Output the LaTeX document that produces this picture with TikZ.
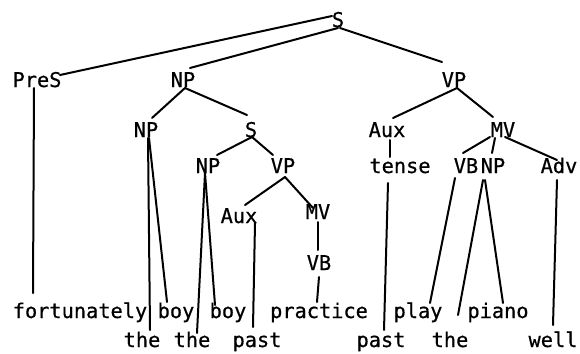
\documentclass[tikz,border=0pt]{standalone}
\usepackage{fontspec}
\setmainfont{DejaVu Sans Mono}[FakeBold=0.6]
\begin{document}
\begin{tikzpicture}[x=1pt,y=-1pt,
  lbl/.style={anchor=base,inner sep=0pt,font=\fontsize{20.3}{24}\selectfont},
  edge/.style={line width=2pt,line cap=round}]
\useasboundingbox (0,0) rectangle (580,353);
% internal nodes
\node[lbl] (S) at (338,27) {S};
\node[lbl] (PreS) at (37,87) {PreS};
\node[lbl] (NPa) at (183,87) {NP};
\node[lbl] (VPa) at (454,87) {VP};
\node[lbl] (NPb) at (146,137) {NP};
\node[lbl] (Sb) at (251,137) {S};
\node[lbl] (Auxa) at (387,137) {Aux};
\node[lbl] (MVa) at (503,137) {MV};
\node[lbl] (NPc) at (208,173) {NP};
\node[lbl] (VPc) at (283,173) {VP};
\node[lbl] (tense) at (400,173) {tense};
\node[lbl] (VBa) at (466,173) {VB};
\node[lbl] (NPd) at (493,173) {NP};
\node[lbl] (Adv) at (559,173) {Adv};
\node[lbl] (Auxb) at (239,223) {Aux};
\node[lbl] (MVb) at (318,219) {MV};
\node[lbl] (VBb) at (319,270) {VB};
% leaves
\node[lbl] (fort) at (80,318) {fortunately};
\node[lbl] (boya) at (176,318) {boy};
\node[lbl] (boyb) at (228,318) {boy};
\node[lbl] (prac) at (319,318) {practice};
\node[lbl] (play) at (418,318) {play};
\node[lbl] (piano) at (498,318) {piano};
\node[lbl] (thea) at (142,347) {the};
\node[lbl] (theb) at (192,347) {the};
\node[lbl] (pasta) at (257,347) {past};
\node[lbl] (pastb) at (381,347) {past};
\node[lbl] (thec) at (450,347) {the};
\node[lbl] (well) at (553,347) {well};
% edges
\draw[edge] ([shift={(-6pt,11pt)}]S.base) -- ([shift={(23pt,12pt)}]PreS.base);
\draw[edge] ([shift={(0pt,-1pt)}]S.base) -- ([shift={(7pt,19pt)}]NPa.base);
\draw[edge] ([shift={(2pt,-1pt)}]S.base) -- ([shift={(-12pt,25pt)}]VPa.base);
\draw[edge] ([shift={(-3pt,-1pt)}]PreS.base) -- ([shift={(-47pt,25pt)}]fort.base);
\draw[edge] ([shift={(2pt,-1pt)}]NPa.base) -- ([shift={(6pt,19pt)}]NPb.base);
\draw[edge] ([shift={(2pt,-1pt)}]NPa.base) -- ([shift={(-4pt,22pt)}]Sb.base);
\draw[edge] ([shift={(2pt,-1pt)}]NPb.base) -- ([shift={(8pt,17pt)}]thea.base);
\draw[edge] ([shift={(3pt,-1pt)}]NPb.base) -- ([shift={(-9pt,16pt)}]boya.base);
\draw[edge] ([shift={(1pt,0pt)}]Sb.base) -- ([shift={(9pt,18pt)}]NPc.base);
\draw[edge] ([shift={(1pt,0pt)}]Sb.base) -- ([shift={(-10pt,18pt)}]VPc.base);
\draw[edge] ([shift={(-3pt,0pt)}]NPc.base) -- ([shift={(5pt,14pt)}]theb.base);
\draw[edge] ([shift={(-3pt,0pt)}]NPc.base) -- ([shift={(-13pt,13pt)}]boyb.base);
\draw[edge] ([shift={(2pt,-4pt)}]VPc.base) -- ([shift={(6pt,18pt)}]Auxb.base);
\draw[edge] ([shift={(2pt,-4pt)}]VPc.base) -- ([shift={(-5pt,11pt)}]MVb.base);
\draw[edge] ([shift={(16pt,0pt)}]Auxb.base) -- ([shift={(-4pt,20pt)}]pasta.base);
\draw[edge] ([shift={(0pt,-3pt)}]MVb.base) -- ([shift={(-1pt,20pt)}]VBb.base);
\draw[edge] ([shift={(0pt,-7pt)}]VBb.base) -- ([shift={(-2pt,16pt)}]prac.base);
\draw[edge] ([shift={(3pt,-1pt)}]VPa.base) -- ([shift={(6pt,19pt)}]Auxa.base);
\draw[edge] ([shift={(3pt,-1pt)}]VPa.base) -- ([shift={(-10pt,20pt)}]MVa.base);
\draw[edge] ([shift={(3pt,-3pt)}]Auxa.base) -- ([shift={(-10pt,16pt)}]tense.base);
\draw[edge] ([shift={(-12pt,-10pt)}]tense.base) -- ([shift={(3pt,17pt)}]pastb.base);
\draw[edge] ([shift={(-13pt,0pt)}]MVa.base) -- ([shift={(-3pt,20pt)}]VBa.base);
\draw[edge] ([shift={(-8pt,-1pt)}]MVa.base) -- ([shift={(-1pt,20pt)}]NPd.base);
\draw[edge] ([shift={(2pt,0pt)}]MVa.base) -- ([shift={(-2pt,13pt)}]Adv.base);
\draw[edge] ([shift={(-11pt,-5pt)}]VBa.base) -- ([shift={(12pt,15pt)}]play.base);
\draw[edge] ([shift={(-10pt,-7pt)}]NPd.base) -- ([shift={(8pt,32pt)}]thec.base);
\draw[edge] ([shift={(-8pt,-7pt)}]NPd.base) -- ([shift={(5pt,15pt)}]piano.base);
\draw[edge] ([shift={(-2pt,-7pt)}]Adv.base) -- ([shift={(0pt,22pt)}]well.base);
\end{tikzpicture}
\end{document}
